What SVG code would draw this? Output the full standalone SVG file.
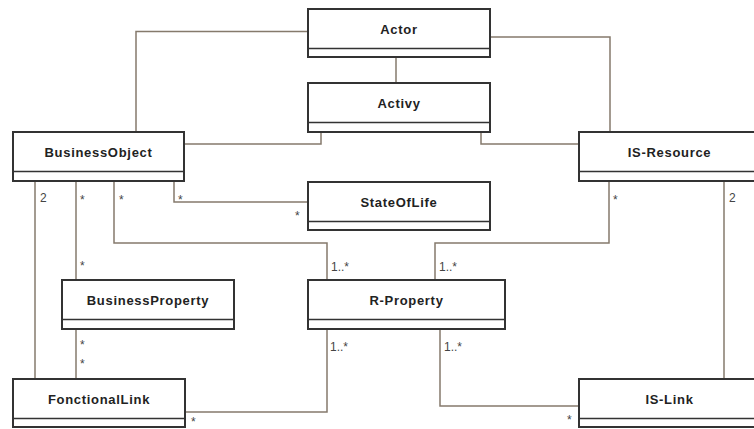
<svg xmlns="http://www.w3.org/2000/svg" width="754" height="429" viewBox="0 0 754 429">
<style>
.box{fill:#fff;stroke:#333;stroke-width:2}
.sep{stroke:#333;stroke-width:1.5;fill:none}
.name{font-family:"Liberation Sans",Arial,sans-serif;font-weight:bold;font-size:13px;letter-spacing:0.7px;fill:#222;text-anchor:middle}
.conn{fill:none;stroke:#857a6c;stroke-width:1.5}
.lbl{font-family:"Liberation Sans",Arial,sans-serif;font-size:12px;fill:#444}
</style>
<rect width="754" height="429" fill="#fff"/>
<g id="connectors">
<polyline class="conn" points="308,31.5 136,31.5 136,132"/>
<polyline class="conn" points="490,37 610,37 610,132"/>
<line class="conn" x1="396" y1="57" x2="396" y2="83"/>
<polyline class="conn" points="184,144 321,144 321,132"/>
<polyline class="conn" points="481,132 481,144 579,144"/>
<polyline class="conn" points="174,181 174,202 308,202"/>
<line class="conn" x1="35" y1="181" x2="35" y2="379"/>
<line class="conn" x1="76" y1="181" x2="76" y2="280"/>
<polyline class="conn" points="114,181 114,243 327,243 327,280"/>
<polyline class="conn" points="609,181 609,243 435,243 435,280"/>
<line class="conn" x1="724" y1="181" x2="724" y2="379"/>
<line class="conn" x1="76" y1="329" x2="76" y2="379"/>
<polyline class="conn" points="327,329 327,412 185,412"/>
<polyline class="conn" points="440,329 440,406 579,406"/>
<g id="labels">
<text class="lbl" x="40" y="202">2</text>
<text class="lbl" x="80" y="204">*</text>
<text class="lbl" x="119" y="204">*</text>
<text class="lbl" x="178" y="204">*</text>
<text class="lbl" x="295" y="220">*</text>
<text class="lbl" x="80" y="270">*</text>
<text class="lbl" x="331" y="271">1..*</text>
<text class="lbl" x="439" y="271">1..*</text>
<text class="lbl" x="613" y="204">*</text>
<text class="lbl" x="729" y="202">2</text>
<text class="lbl" x="80" y="349">*</text>
<text class="lbl" x="80" y="368">*</text>
<text class="lbl" x="330" y="351">1..*</text>
<text class="lbl" x="444" y="351">1..*</text>
<text class="lbl" x="191" y="426">*</text>
<text class="lbl" x="567" y="424">*</text>
</g>
</g>
<g id="Actor"><rect class="box" x="308" y="9" width="182" height="48"/><line class="sep" x1="308" y1="48.5" x2="490" y2="48.5"/><text class="name" x="399" y="33.5">Actor</text></g>
<g id="Activy"><rect class="box" x="308" y="83" width="182" height="49"/><line class="sep" x1="308" y1="122.5" x2="490" y2="122.5"/><text class="name" x="399" y="107.5">Activy</text></g>
<g id="BusinessObject"><rect class="box" x="13" y="132" width="171" height="49"/><line class="sep" x1="13" y1="171.5" x2="184" y2="171.5"/><text class="name" x="98.5" y="157">BusinessObject</text></g>
<g id="IS-Resource"><rect class="box" x="579" y="132" width="182" height="49"/><line class="sep" x1="579" y1="171.5" x2="761" y2="171.5"/><text class="name" x="669.5" y="157">IS-Resource</text></g>
<g id="StateOfLife"><rect class="box" x="308" y="182" width="182" height="48"/><line class="sep" x1="308" y1="221.5" x2="490" y2="221.5"/><text class="name" x="399" y="206.5">StateOfLife</text></g>
<g id="BusinessProperty"><rect class="box" x="62" y="280" width="172" height="49"/><line class="sep" x1="62" y1="319.5" x2="234" y2="319.5"/><text class="name" x="148" y="305">BusinessProperty</text></g>
<g id="R-Property"><rect class="box" x="308" y="280" width="197" height="49"/><line class="sep" x1="308" y1="319.5" x2="505" y2="319.5"/><text class="name" x="406.5" y="305">R-Property</text></g>
<g id="FonctionalLink"><rect class="box" x="13" y="379" width="172" height="48"/><line class="sep" x1="13" y1="418.5" x2="185" y2="418.5"/><text class="name" x="99" y="404">FonctionalLink</text></g>
<g id="IS-Link"><rect class="box" x="579" y="379" width="182" height="48"/><line class="sep" x1="579" y1="418.5" x2="761" y2="418.5"/><text class="name" x="669.5" y="404">IS-Link</text></g>
</svg>
